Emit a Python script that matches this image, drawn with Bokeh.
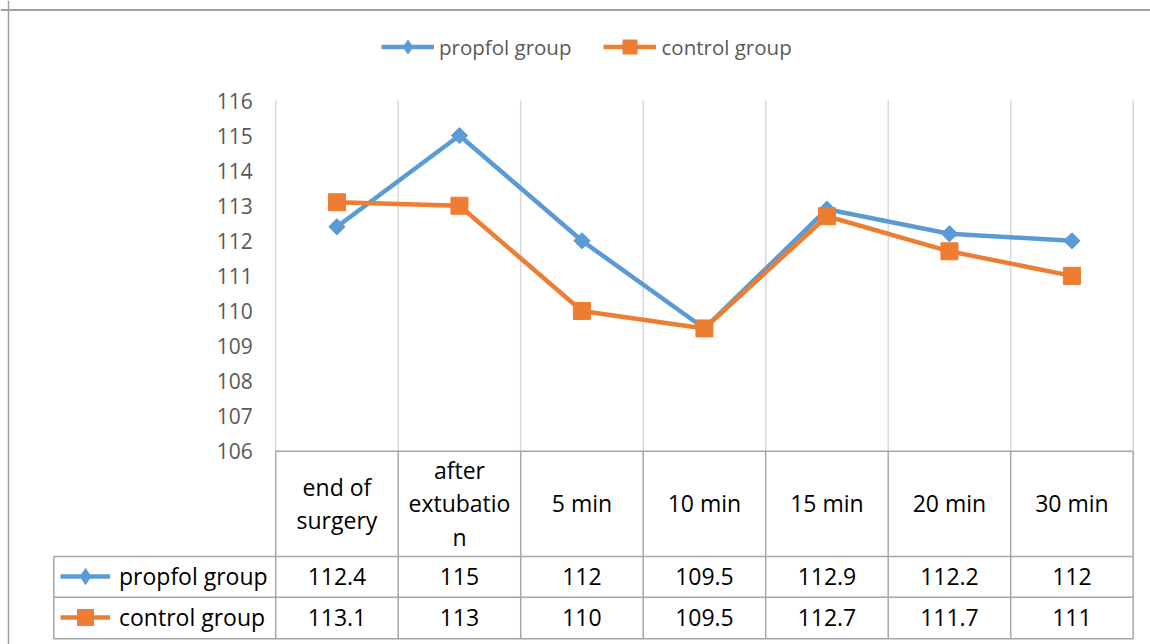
import numpy as np
from bokeh.plotting import figure
from bokeh.models import (Range1d, LinearAxis, FixedTicker, Legend, LegendItem,
                          Span, Grid)
from bokeh.core.properties import value
from bokeh.embed import file_html
from bokeh.resources import INLINE

# ---- data ----
categories = ["end of surgery", "after extubation", "5 min", "10 min",
              "15 min", "20 min", "30 min"]
propofol = [112.4, 115, 112, 109.5, 112.9, 112.2, 112]
control = [113.1, 113, 110, 109.5, 112.7, 111.7, 111]
series_names = ["propfol group", "control group"]
y_ticks = [106, 107, 108, 109, 110, 111, 112, 113, 114, 115, 116]

# ---- style / layout ----
FONT = "Open Sans"
BLUE = "#5B9BD5"
ORANGE = "#ED7D31"
GRID = "#d9d9d9"
TABLE = "#a6a6a6"
W, H = 1150, 644
PX_X, PX_Y = 122.5, 35.07
X0, X1 = -275.2 / PX_X, (W - 275.2) / PX_X
Y1 = 116 + 100 / PX_Y
Y0 = Y1 - H / PX_Y

n = len(categories)
xs = np.arange(n) + 0.5
ymin, ymax = y_ticks[0], y_ticks[-1]


def wrap(s, w=9):
    lines, cur = [], ""
    for word in s.split():
        cand = (cur + " " + word).strip()
        if len(cand) <= w:
            cur = cand
        else:
            if cur:
                lines.append(cur)
            while len(word) > w:
                lines.append(word[:w])
                word = word[w:]
            cur = word
    if cur:
        lines.append(cur)
    return "\n".join(lines)


p = figure(width=W, height=H, x_range=Range1d(X0, X1), y_range=Range1d(Y0, Y1),
           output_backend="svg", toolbar_location=None, min_border=0,
           x_axis_location=None, y_axis_location=None, outline_line_color=None)
p.center = [c for c in p.center if not isinstance(c, Grid)]
p.background_fill_color = "white"
p.border_fill_color = "white"

# chart box border (top / left)
p.add_layout(Span(location=Y1 - 9.5 / PX_Y, dimension="width", line_color="#a0a0a0", line_width=2))
p.add_layout(Span(location=X0 + 8 / PX_X, dimension="height", line_color="#a0a0a0", line_width=1.5))

# vertical gridlines at category boundaries
bounds_x = list(range(n + 1))
p.segment(x0=bounds_x, y0=ymin, x1=bounds_x, y1=ymax, line_color=GRID, line_width=1.5)

# data table grid
TL = (53.3 - 275.2) / PX_X
R_HEAD = 103.0
R_ONE = 101.835
R_BOT = 100.655
hy = [ymin, R_HEAD, R_ONE, R_BOT]
hx0 = [0, TL, TL, TL]
p.segment(x0=hx0, y0=hy, x1=[n] * 4, y1=hy, line_color=TABLE, line_width=1.5)
p.segment(x0=bounds_x, y0=ymin, x1=bounds_x, y1=R_BOT, line_color=TABLE, line_width=1.5)
p.segment(x0=[TL], y0=[R_HEAD], x1=[TL], y1=[R_BOT], line_color=TABLE, line_width=1.5)

# header (category) texts
header = [wrap(c, 9) for c in categories]
p.text(x=xs, y=[104.51] * n, text=header, text_font=value(FONT), text_font_size="23px",
       text_color="black", text_align="center", text_baseline="middle",
       text_line_height=1.05)

# value texts
fmt = lambda v: "{:g}".format(v)
p.text(x=xs, y=[102.42] * n, text=[fmt(v) for v in propofol], text_font=value(FONT),
       text_font_size="23px", text_color="black", text_align="center", text_baseline="middle")
p.text(x=xs, y=[101.245] * n, text=[fmt(v) for v in control], text_font=value(FONT),
       text_font_size="23px", text_color="black", text_align="center", text_baseline="middle")

# series
l1 = p.line(xs, propofol, line_color=BLUE, line_width=4.5, line_join="round")
# diamond key for the legend (small, hidden beneath the rotated-square markers)
key1 = p.scatter(xs, propofol, marker="diamond", size=8, fill_color=BLUE, line_color=BLUE)
s1 = p.scatter(xs, propofol, marker="square", angle=np.pi / 4, size=11.5,
               fill_color=BLUE, line_color=BLUE)
l2 = p.line(xs, control, line_color=ORANGE, line_width=4.5, line_join="round")
s2 = p.scatter(xs, control, marker="square", size=17, fill_color=ORANGE, line_color=ORANGE)

# y axis inside the frame
yaxis = LinearAxis(fixed_location=0, bounds=(ymin, ymax), ticker=FixedTicker(ticks=y_ticks),
                   axis_line_color=None, major_tick_line_color=None,
                   minor_tick_line_color=None, major_tick_out=0, major_tick_in=0,
                   major_label_standoff=23, major_label_text_font=FONT,
                   major_label_text_font_size="21px", major_label_text_color="#595959")
p.add_layout(yaxis, "left")

# top legend
leg = Legend(items=[LegendItem(label=series_names[0], renderers=[l1, key1]),
                    LegendItem(label=series_names[1], renderers=[l2, s2])],
             orientation="horizontal", location=(381, 580), glyph_width=53, glyph_height=35,
             label_standoff=5, spacing=32, padding=0, margin=0,
             border_line_color=None, background_fill_alpha=0,
             label_text_font=FONT, label_text_font_size="20.5px",
             label_text_color="#595959")
p.add_layout(leg)

# table legend keys
leg2 = Legend(items=[LegendItem(label=series_names[0], renderers=[l1, key1]),
                     LegendItem(label=series_names[1], renderers=[l2, s2])],
              orientation="vertical", location=(60, 7), glyph_width=50, glyph_height=40,
              label_standoff=9, spacing=1, padding=0, margin=0,
              border_line_color=None, background_fill_alpha=0,
              label_text_font=FONT, label_text_font_size="23px",
              label_text_color="black")
p.add_layout(leg2)

open("out.html", "w").write(file_html(p, INLINE))
